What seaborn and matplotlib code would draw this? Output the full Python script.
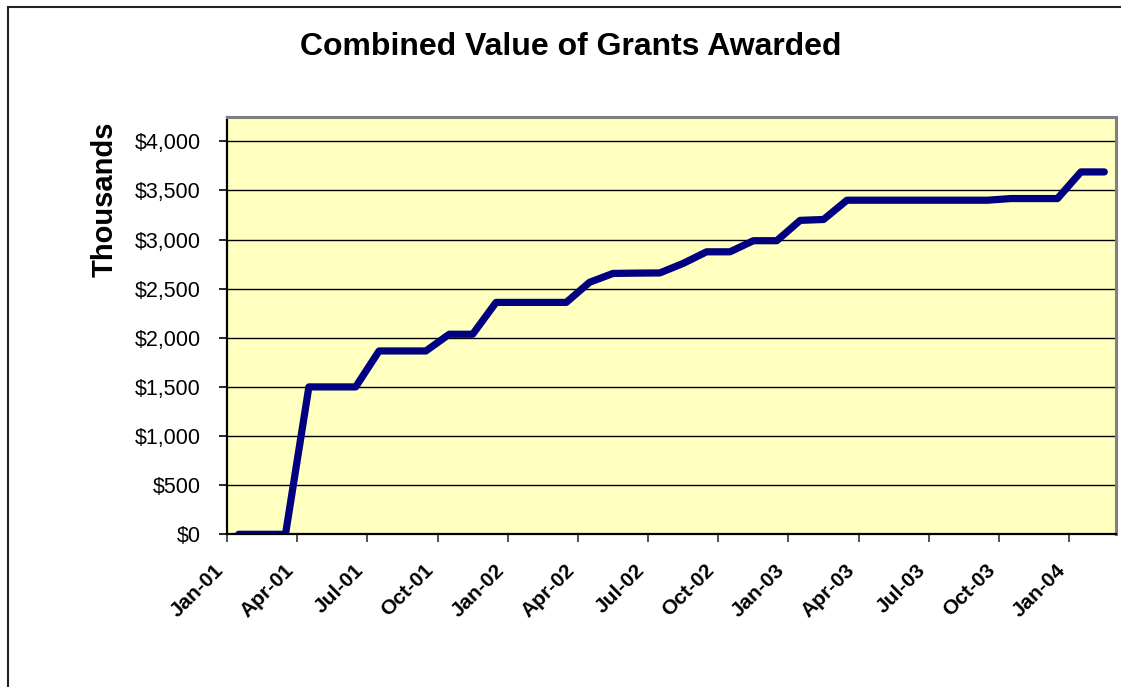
import numpy as np
import pandas as pd
import matplotlib
matplotlib.use("Agg")
import matplotlib.pyplot as plt
from matplotlib.patches import Rectangle
import seaborn as sns

# ---- data (values in thousands of dollars, one point per month, mid-month) ----
months = pd.period_range("2001-01", "2004-02", freq="M")
values = [0, 0, 0, 1500, 1500, 1500, 1866, 1866, 1866, 2036, 2036, 2360,
          2360, 2360, 2360, 2565, 2655, 2658, 2660, 2757, 2875, 2875, 2988, 2988,
          3195, 3204, 3400, 3400, 3400, 3400, 3400, 3400, 3400, 3417, 3417, 3417,
          3688, 3688]
tick_labels = ["Jan-01", "Apr-01", "Jul-01", "Oct-01", "Jan-02", "Apr-02", "Jul-02",
               "Oct-02", "Jan-03", "Apr-03", "Jul-03", "Oct-03", "Jan-04"]
yticks = [0, 500, 1000, 1500, 2000, 2500, 3000, 3500, 4000]

start = months[0]
df = pd.DataFrame({
    "pos": [(m - start).n + 0.5 for m in months],
    "value": values,
})
tick_pos = [(pd.Period(pd.to_datetime(t, format="%b-%y"), freq="M") - start).n for t in tick_labels]

sns.set_theme(style="white")
plt.rcParams["font.family"] = ["Liberation Sans", "DejaVu Sans"]

W, H = 1121, 687
fig = plt.figure(figsize=(W / 100, H / 100), dpi=100)
fig.patch.set_facecolor("white")

# outer chart-area border
fig.patches.append(Rectangle((8 / W, -0.05), 1.2, 1 - 7 / H + 0.05,
                             transform=fig.transFigure, fill=False,
                             edgecolor="#222222", linewidth=1.5))

ax = fig.add_axes([227 / W, 1 - 534.3 / H, (1116 - 227) / W, (534.3 - 116.7) / H])
ax.set_facecolor("#FFFFC0")

sns.lineplot(data=df, x="pos", y="value", ax=ax, color="#000080", linewidth=5.2,
             solid_capstyle="round", solid_joinstyle="round", estimator=None, sort=False)

ax.set_xlim(0, 38)
ax.set_ylim(0, 4250)
ax.set_yticks(yticks)
ax.set_yticklabels([f"${v:,.0f}" for v in yticks], fontsize=15.5)
ax.set_xticks(tick_pos)
ax.set_xticklabels(tick_labels, rotation=45, ha="right", va="top",
                   fontsize=15, fontweight="bold", rotation_mode="default")
ax.grid(axis="y", color="black", linewidth=1.0)
ax.grid(axis="x", visible=False)
ax.set_axisbelow(True)
ax.set_xlabel("")
ax.set_ylabel("")

ax.tick_params(axis="y", direction="out", length=6, width=1.2, color="black", pad=13,
               left=True, labelcolor="black")
ax.tick_params(axis="x", direction="out", length=6, width=1.2, color="#333333", pad=13,
               bottom=True, labelcolor="black")

for side in ["left", "bottom"]:
    ax.spines[side].set_color("black")
    ax.spines[side].set_linewidth(1.6)
for side in ["top", "right"]:
    ax.spines[side].set_color("#808080")
    ax.spines[side].set_linewidth(2.2)

fig.text(571 / W, 1 - 47 / H, "Combined Value of Grants Awarded", ha="center", va="center",
         fontsize=23, fontweight="bold", color="black")
fig.text(105 / W, 1 - 199.5 / H, "Thousands", ha="center", va="center", rotation=90,
         fontsize=21, fontweight="bold", color="black")

fig.savefig("out.png", dpi=100)
